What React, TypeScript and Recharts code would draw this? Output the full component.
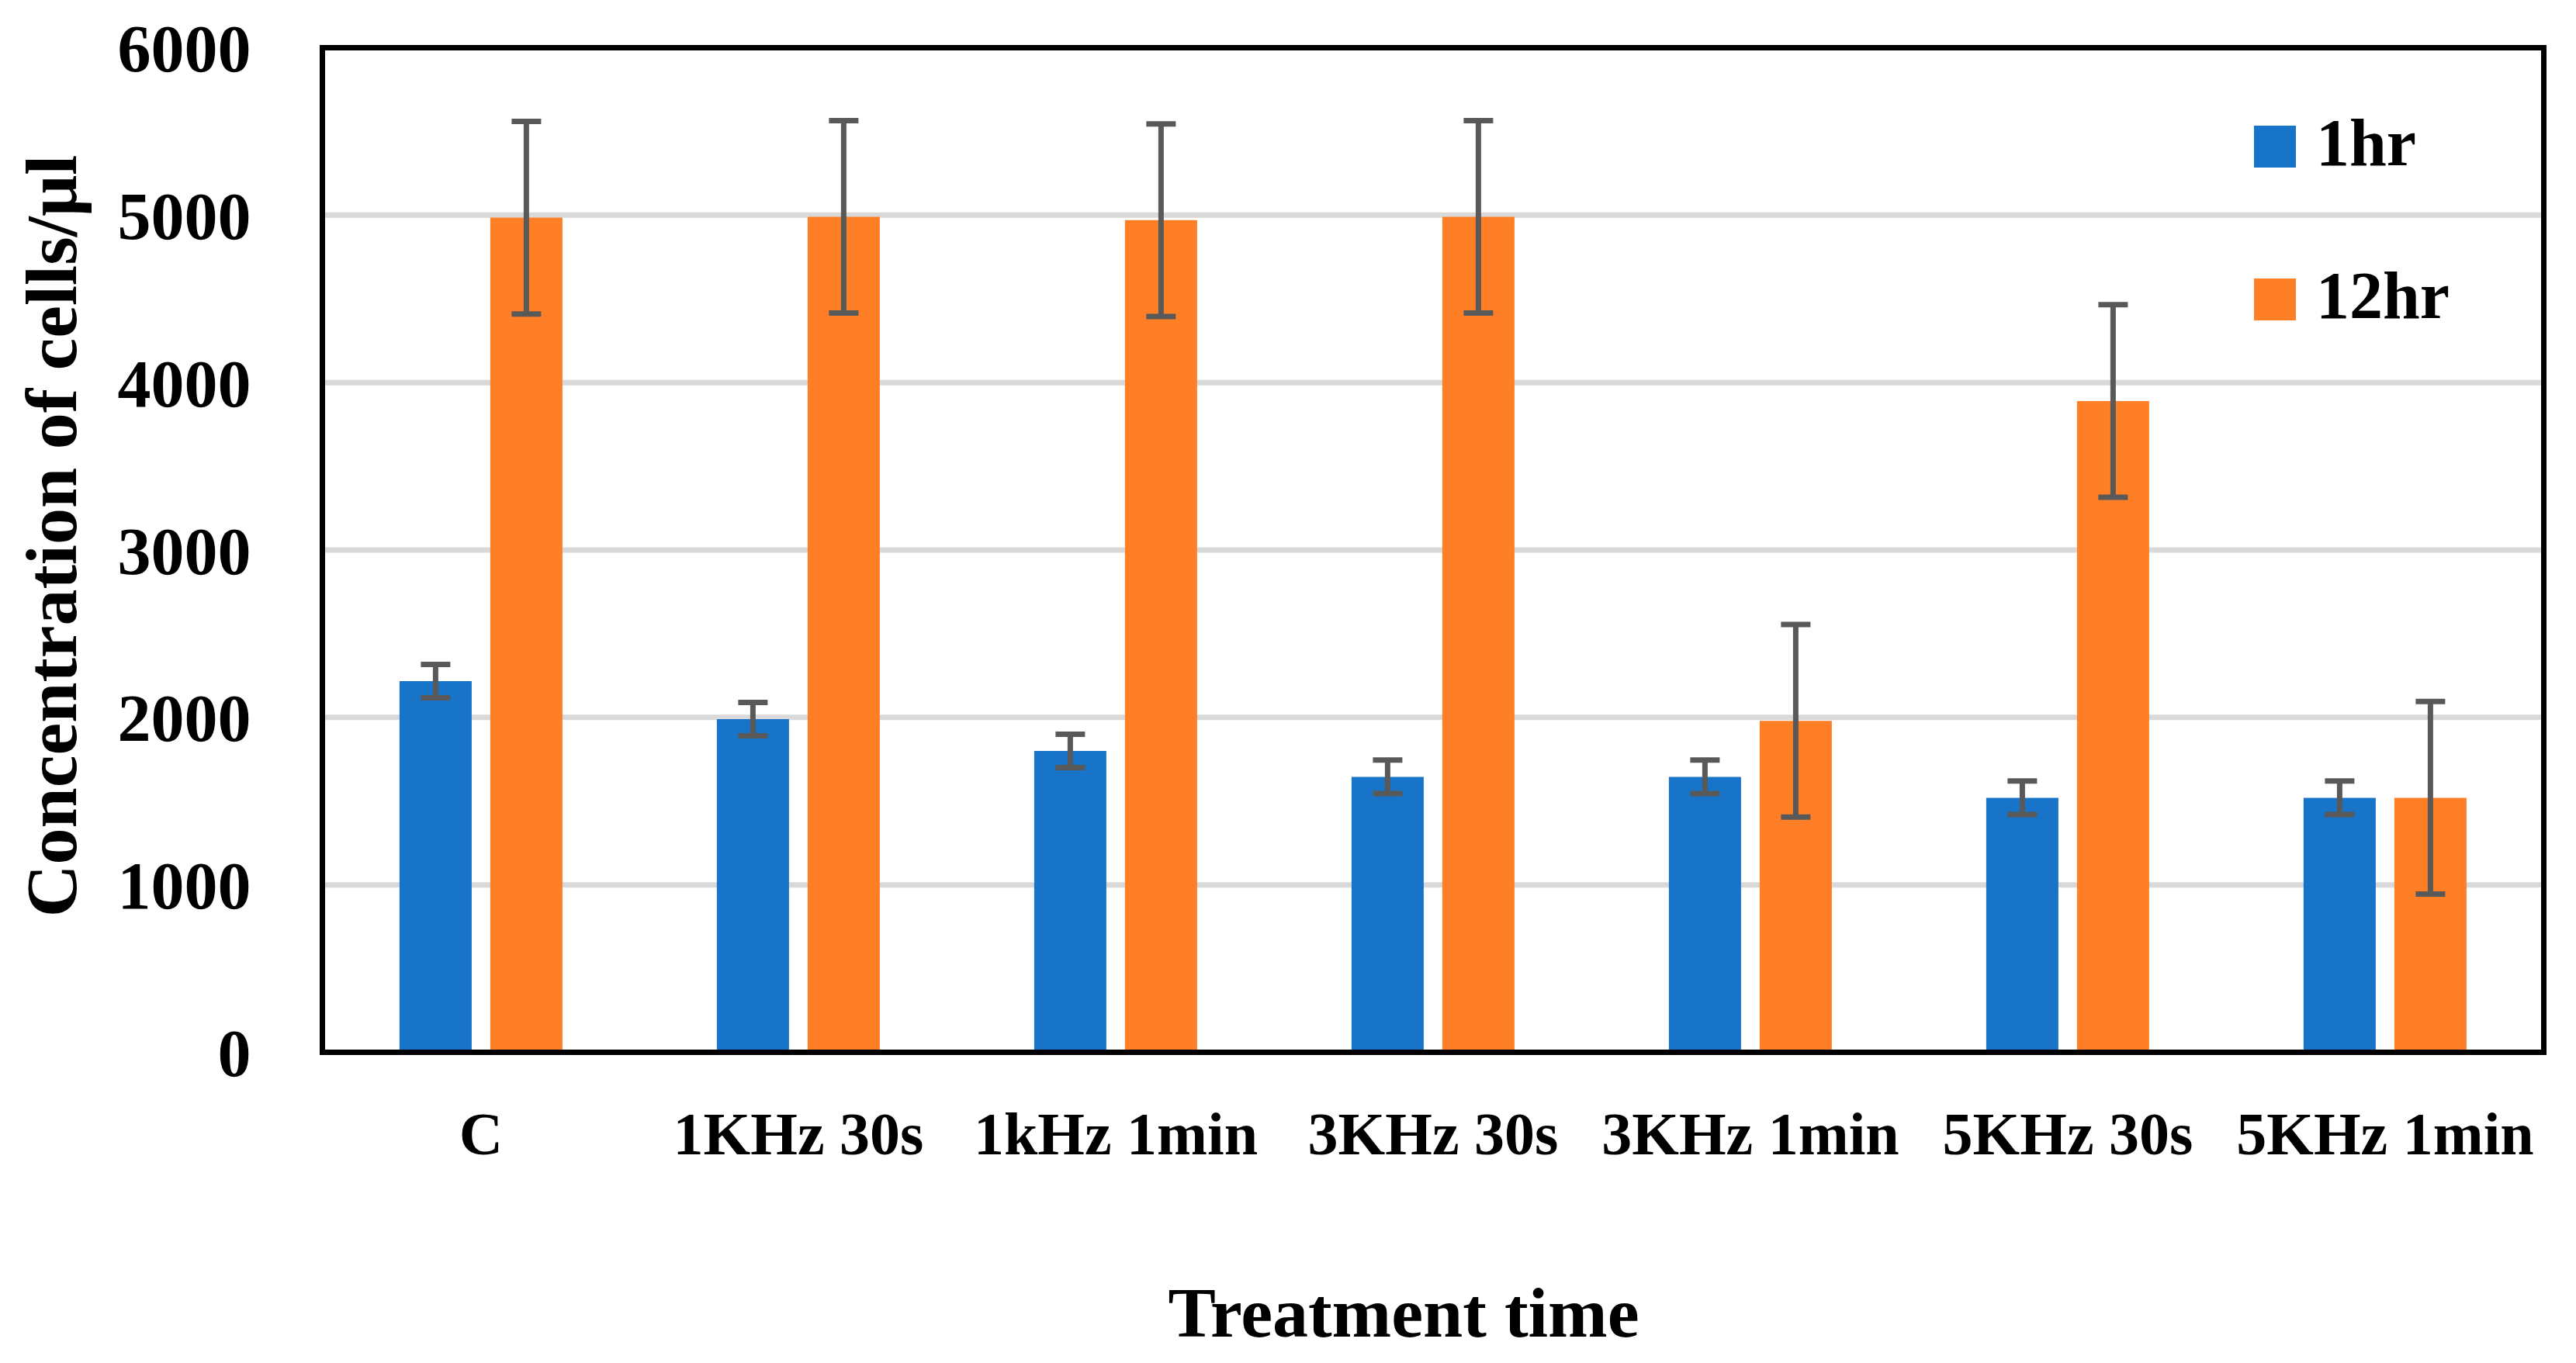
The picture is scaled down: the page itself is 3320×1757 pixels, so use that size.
import { BarChart, Bar, XAxis, YAxis, CartesianGrid, ErrorBar, Legend, Label } from 'recharts'

const FONT = "'Liberation Serif', 'Times New Roman', serif"

const categories = ['C', '1KHz 30s', '1kHz 1min', '3KHz 30s', '3KHz 1min', '5KHz 30s', '5KHz 1min']
const seriesNames = ['1hr', '12hr']
const hr1 = [2217, 1990, 1800, 1645, 1645, 1520, 1520]
const hr1Err = [100, 100, 100, 100, 100, 100, 100]
const hr12 = [4985, 4990, 4970, 4990, 1980, 3890, 1520]
const hr12Err = [575, 575, 575, 575, 575, 575, 575]
const yTicks = [0, 1000, 2000, 3000, 4000, 5000, 6000]

const data = categories.map((name, i) => ({
  name,
  hr1: hr1[i],
  hr1Err: hr1Err[i],
  hr12: hr12[i],
  hr12Err: hr12Err[i],
}))

const frame = { stroke: '#000', strokeWidth: 7, strokeLinecap: 'square' as const }

const renderLegend = ({ payload }: any) => {
  const items = [...(payload || [])].sort(
    (a: any, b: any) => seriesNames.indexOf(a.value) - seriesNames.indexOf(b.value)
  )
  return (
    <div>
      {items.map((p: any) => (
        <div key={p.value} style={{ display: 'flex', alignItems: 'center', height: 197 }}>
          <div style={{ width: 54, height: 54, background: p.color, marginRight: 26 }} />
          <span
            style={{
              fontFamily: FONT,
              fontWeight: 'bold',
              fontSize: 86,
              lineHeight: 1,
              color: '#000',
              position: 'relative',
              top: -5,
            }}
          >
            {p.value}
          </span>
        </div>
      ))}
    </div>
  )
}

const XTitle = ({ viewBox }: any) => (
  <text
    x={viewBox.x + viewBox.width / 2 - 38}
    y={viewBox.y + 366}
    textAnchor="middle"
    fontFamily={FONT}
    fontWeight="bold"
    fontSize={92}
    fill="#000"
  >
    Treatment time
  </text>
)

const YTitle = ({ viewBox }: any) => {
  const x = viewBox.x + 98
  const y = 691
  return (
    <text
      x={x}
      y={y}
      transform={`rotate(-90 ${x} ${y})`}
      textAnchor="middle"
      fontFamily={FONT}
      fontWeight="bold"
      fontSize={94}
      fill="#000"
    >
      Concentration of cells/μl
    </text>
  )
}

export default function App() {
  return (
    <div style={{ position: 'absolute', left: 0, top: 0, width: 3320, height: 1757, background: '#fff' }}>
      <BarChart
        width={3320}
        height={1757}
        data={data}
        margin={{ top: 60.5, right: 40.5, bottom: 0, left: 0 }}
        barGap={24}
        barCategoryGap="24.3%"
      >
        <CartesianGrid vertical={false} stroke="#d9d9d9" strokeWidth={7} />
        <Bar dataKey="hr1" name="1hr" fill="#1874C8" isAnimationActive={false}>
          <ErrorBar dataKey="hr1Err" width={19} strokeWidth={7} stroke="#595959" direction="y" />
        </Bar>
        <Bar dataKey="hr12" name="12hr" fill="#FF7F27" isAnimationActive={false}>
          <ErrorBar dataKey="hr12Err" width={19} strokeWidth={7} stroke="#595959" direction="y" />
        </Bar>
        <XAxis
          dataKey="name"
          height={400.5}
          interval={0}
          tickLine={false}
          tickSize={0}
          tickMargin={76}
          tick={{ fontSize: 78, fontWeight: 'bold', fill: '#000', fontFamily: FONT }}
          axisLine={frame}
        >
          <Label content={<XTitle />} />
        </XAxis>
        <XAxis
          xAxisId="top"
          orientation="top"
          dataKey="name"
          height={1}
          tick={false}
          tickLine={false}
          axisLine={frame}
        />
        <YAxis
          width={415.5}
          domain={[0, 6000]}
          ticks={yTicks}
          tickLine={false}
          tickSize={0}
          tickMargin={92}
          tick={{ fontSize: 86, fontWeight: 'bold', fill: '#000', fontFamily: FONT }}
          axisLine={frame}
        >
          <Label content={<YTitle />} />
        </YAxis>
        <YAxis
          yAxisId="right"
          orientation="right"
          width={1}
          domain={[0, 6000]}
          tick={false}
          tickLine={false}
          axisLine={frame}
        />
        <Legend
          layout="vertical"
          align="center"
          verticalAlign="middle"
          content={renderLegend}
          wrapperStyle={{ left: 2905, top: 90.5, width: 320, height: 394 }}
        />
      </BarChart>
    </div>
  )
}
